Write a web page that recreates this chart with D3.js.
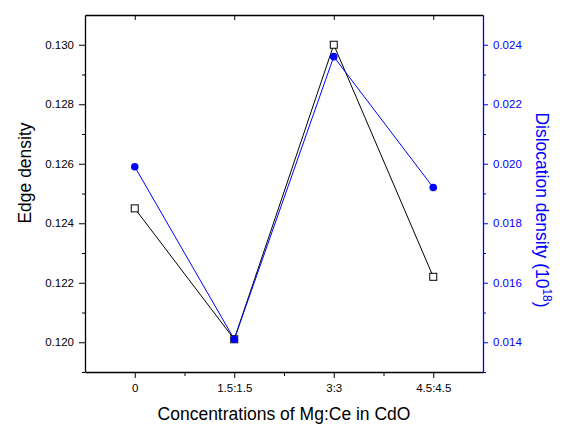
<!doctype html>
<html>
<head>
<meta charset="utf-8">
<title>Edge density / Dislocation density</title>
<script src="https://cdn.jsdelivr.net/npm/d3@7"></script>
<style>
*{margin:0;padding:0;}
body{background:white;}
text{font-family:"Liberation Sans",Arial,sans-serif;}
</style>
</head>
<body>
<script>
// data
var categories = ["0", "1.5:1.5", "3:3", "4.5:4.5"];
var edgeDensity = [0.1245, 0.1201, 0.1300, 0.1222];
var dislocationDensity = [0.0199, 0.0141, 0.0236, 0.0192];
var leftTicks = [0.120, 0.122, 0.124, 0.126, 0.128, 0.130];
var rightTicks = [0.014, 0.016, 0.018, 0.020, 0.022, 0.024];

var W = 563, H = 425;
var L = 85, R = 483, T = 15, B = 372;
var blue = "#0000ff";

var svg = d3.select("body").append("svg").attr("width", W).attr("height", H);

var x = d3.scaleLinear().domain([-0.5, 3.5]).range([L, R]);
var yL = d3.scaleLinear().domain([0.119, 0.131]).range([B, T]);
var yR = d3.scaleLinear().domain([0.013, 0.025]).range([B, T]);

// minor ticks (half steps)
var minorL = d3.range(0.119, 0.1305, 0.001).filter(function(v){ return Math.round(v * 1000) % 2 === 1; });
var minorR = d3.range(0.013, 0.0245, 0.001).filter(function(v){ return Math.round(v * 1000) % 2 === 1; });

function styleAxis(g, col) {
  g.selectAll("path").attr("stroke", col).attr("stroke-width", 1.3);
  g.selectAll("line").attr("stroke", col).attr("stroke-width", 1);
  g.selectAll("text").attr("fill", col).attr("font-size", "11.5px")
   .attr("font-family", "'Liberation Sans', Arial, sans-serif");
}

// bottom axis
var gb = svg.append("g").attr("transform", "translate(0," + B + ")")
  .call(d3.axisBottom(x).tickValues([0, 1, 2, 3]).tickFormat(function(d){ return categories[d]; })
    .tickSizeInner(6).tickSizeOuter(0).tickPadding(6));
styleAxis(gb, "#000");
svg.append("g").attr("transform", "translate(0," + B + ")")
  .call(d3.axisBottom(x).tickValues([0.5, 1.5, 2.5]).tickFormat("").tickSizeInner(4).tickSizeOuter(0))
  .call(function(g){ g.select("path").remove(); g.selectAll("line").attr("stroke", "#000"); });

// top axis (ticks inward)
var gt = svg.append("g").attr("transform", "translate(0," + T + ")")
  .call(d3.axisTop(x).tickValues([0, 1, 2, 3]).tickFormat("").tickSizeInner(-5).tickSizeOuter(0));
styleAxis(gt, "#000");

// left axis
var gl = svg.append("g").attr("transform", "translate(" + L + ",0)")
  .call(d3.axisLeft(yL).tickValues(leftTicks).tickFormat(d3.format(".3f"))
    .tickSizeInner(6).tickSizeOuter(0).tickPadding(5));
styleAxis(gl, "#000");
svg.append("g").attr("transform", "translate(" + L + ",0)")
  .call(d3.axisLeft(yL).tickValues(minorL).tickFormat("").tickSizeInner(3).tickSizeOuter(0))
  .call(function(g){ g.select("path").remove(); g.selectAll("line").attr("stroke", "#000"); });

// right axis
var gr = svg.append("g").attr("transform", "translate(" + R + ",0)")
  .call(d3.axisRight(yR).tickValues(rightTicks).tickFormat(d3.format(".3f"))
    .tickSizeInner(5).tickSizeOuter(0).tickPadding(5));
styleAxis(gr, blue);
svg.append("g").attr("transform", "translate(" + R + ",0)")
  .call(d3.axisRight(yR).tickValues(minorR).tickFormat("").tickSizeInner(3).tickSizeOuter(0))
  .call(function(g){ g.select("path").remove(); g.selectAll("line").attr("stroke", blue); });

// lines
var idx = d3.range(categories.length);
svg.append("path").datum(idx)
  .attr("fill", "none").attr("stroke", "#000").attr("stroke-width", 1)
  .attr("d", d3.line().x(function(i){ return x(i); }).y(function(i){ return yL(edgeDensity[i]); }));
svg.append("path").datum(idx)
  .attr("fill", "none").attr("stroke", blue).attr("stroke-width", 1)
  .attr("d", d3.line().x(function(i){ return x(i); }).y(function(i){ return yR(dislocationDensity[i]); }));

// markers
svg.selectAll(".sq").data(idx).enter().append("rect")
  .attr("x", function(i){ return x(i) - 3.5; })
  .attr("y", function(i){ return yL(edgeDensity[i]) - 3.5; })
  .attr("width", 7).attr("height", 7)
  .attr("fill", "white").attr("stroke", "#000").attr("stroke-width", 1);
svg.selectAll(".dot").data(idx).enter().append("circle")
  .attr("cx", function(i){ return x(i); })
  .attr("cy", function(i){ return yR(dislocationDensity[i]); })
  .attr("r", 3.8).attr("fill", blue);

// axis titles
svg.append("text").attr("x", 284).attr("y", 420).attr("text-anchor", "middle")
  .attr("font-size", "17.5px").text("Concentrations of Mg:Ce in CdO");
svg.append("text").attr("transform", "translate(31,173) rotate(-90)")
  .attr("text-anchor", "middle").attr("font-size", "17.5px").text("Edge density");
var rt = svg.append("text").attr("transform", "translate(536,210) rotate(90)")
  .attr("text-anchor", "middle").attr("font-size", "17.5px").attr("fill", blue);
rt.append("tspan").text("Dislocation density (10");
rt.append("tspan").attr("dy", -7).attr("font-size", "12px").text("18");
rt.append("tspan").attr("dy", 7).text(")");
</script>
</body>
</html>
